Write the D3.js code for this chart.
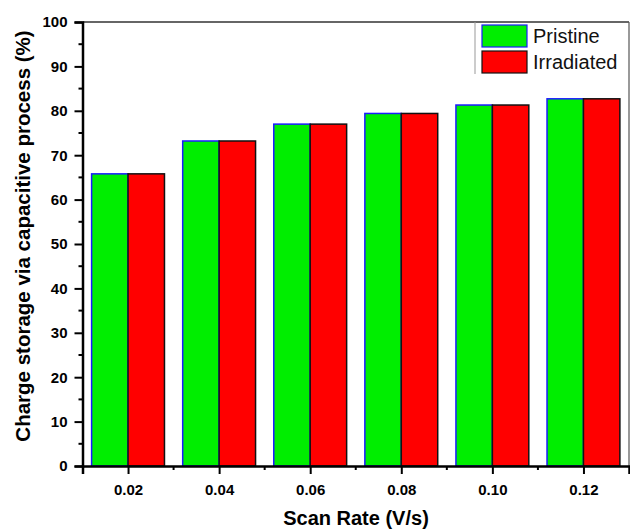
<!DOCTYPE html>
<html>
<head>
<meta charset="utf-8">
<script src="https://cdn.jsdelivr.net/npm/d3@7"></script>
<style>
  html, body { margin: 0; padding: 0; background: #fff; }
  svg { display: block; font-family: Arial, "Liberation Sans", sans-serif; }
</style>
</head>
<body>
<svg id="chart" width="630" height="531"></svg>
<script>
// Scan rates (V/s) and capacitive contribution (%) for each sample
const scanRates = [0.02, 0.04, 0.06, 0.08, 0.10, 0.12];
const pristine = [65.8, 73.2, 77.0, 79.4, 81.3, 82.7];
const irradiated = [65.8, 73.2, 77.0, 79.4, 81.3, 82.7];
const seriesNames = ["Pristine", "Irradiated"];
const xTickValues = [0.02, 0.04, 0.06, 0.08, 0.10, 0.12];
const yTickValues = [0, 10, 20, 30, 40, 50, 60, 70, 80, 90, 100];

const svg = d3.select("#chart");
const plotLeft = 82.5, plotRight = 629, plotTop = 22, plotBottom = 466;
const barHalf = 0.008;

const x = d3.scaleLinear().domain([0.01, 0.13]).range([plotLeft, plotRight]);
const y = d3.scaleLinear().domain([0, 100]).range([plotBottom, plotTop]);

// Frame: top and right edges
svg.append("line").attr("x1", plotLeft).attr("x2", plotRight).attr("y1", plotTop).attr("y2", plotTop)
  .attr("stroke", "#333").attr("stroke-width", 1.5);
svg.append("line").attr("x1", plotRight).attr("x2", plotRight).attr("y1", plotTop).attr("y2", plotBottom)
  .attr("stroke", "#555").attr("stroke-width", 1.2);

// Bars: pristine to the left of each rate, irradiated to the right
const g = svg.append("g");
g.selectAll("rect.pristine").data(scanRates).join("rect")
  .attr("class", "pristine")
  .attr("x", d => x(d - barHalf))
  .attr("width", d => x(d) - x(d - barHalf))
  .attr("y", (d, i) => y(pristine[i]))
  .attr("height", (d, i) => y(0) - y(pristine[i]))
  .attr("fill", "#00ee00").attr("stroke", "#1a1aff").attr("stroke-width", 1.5);
g.selectAll("rect.irradiated").data(scanRates).join("rect")
  .attr("class", "irradiated")
  .attr("x", d => x(d))
  .attr("width", d => x(d + barHalf) - x(d))
  .attr("y", (d, i) => y(irradiated[i]))
  .attr("height", (d, i) => y(0) - y(irradiated[i]))
  .attr("fill", "#ff0000").attr("stroke", "#111").attr("stroke-width", 1.5);

// Minor ticks
const yMinor = d3.range(5, 100, 10);
svg.append("g").selectAll("line").data(yMinor).join("line")
  .attr("x1", plotLeft - 4).attr("x2", plotLeft).attr("y1", d => y(d)).attr("y2", d => y(d))
  .attr("stroke", "#000").attr("stroke-width", 2);
const xMinor = [0.03, 0.05, 0.07, 0.09, 0.11];
svg.append("g").selectAll("line").data(xMinor).join("line")
  .attr("x1", d => x(d)).attr("x2", d => x(d)).attr("y1", plotBottom).attr("y2", plotBottom + 4)
  .attr("stroke", "#000").attr("stroke-width", 2);

// Axes
const yAxis = svg.append("g").attr("transform", `translate(${plotLeft},0)`)
  .call(d3.axisLeft(y).tickValues(yTickValues).tickSize(8).tickPadding(7).tickFormat(d3.format("d")));
const xAxis = svg.append("g").attr("transform", `translate(0,${plotBottom})`)
  .call(d3.axisBottom(x).tickValues(xTickValues).tickSize(8).tickPadding(10).tickFormat(d3.format(".2f")));

[yAxis, xAxis].forEach(a => {
  a.select(".domain").attr("stroke", "#000").attr("stroke-width", 2.5);
  a.selectAll(".tick line").attr("stroke", "#000").attr("stroke-width", 2);
  a.selectAll(".tick text").attr("fill", "#000").attr("font-size", 15).attr("font-weight", "bold")
    .attr("font-family", "Arial, 'Liberation Sans', sans-serif");
});

// Axis titles
svg.append("text").attr("x", 356).attr("y", 525).attr("text-anchor", "middle")
  .attr("font-size", 20).attr("font-weight", "bold").text("Scan Rate (V/s)");
svg.append("text").attr("transform", "translate(30,236) rotate(-90)").attr("text-anchor", "middle")
  .attr("font-size", 20.5).attr("font-weight", "bold").text("Charge storage via capacitive process (%)");

// Legend
const legend = svg.append("g");
legend.append("line").attr("x1", 475).attr("x2", 475).attr("y1", plotTop).attr("y2", 74)
  .attr("stroke", "#999").attr("stroke-width", 1);
const legFill = ["#00ee00", "#ff0000"];
const legStroke = ["#1a1aff", "#111"];
seriesNames.forEach((name, i) => {
  legend.append("rect").attr("x", 482).attr("y", 25 + i * 26).attr("width", 45).attr("height", 22)
    .attr("fill", legFill[i]).attr("stroke", legStroke[i]).attr("stroke-width", 1.2);
  legend.append("text").attr("x", 533).attr("y", 43 + i * 25.5)
    .attr("font-size", 20).attr("fill", "#111").text(name);
});
</script>
</body>
</html>
